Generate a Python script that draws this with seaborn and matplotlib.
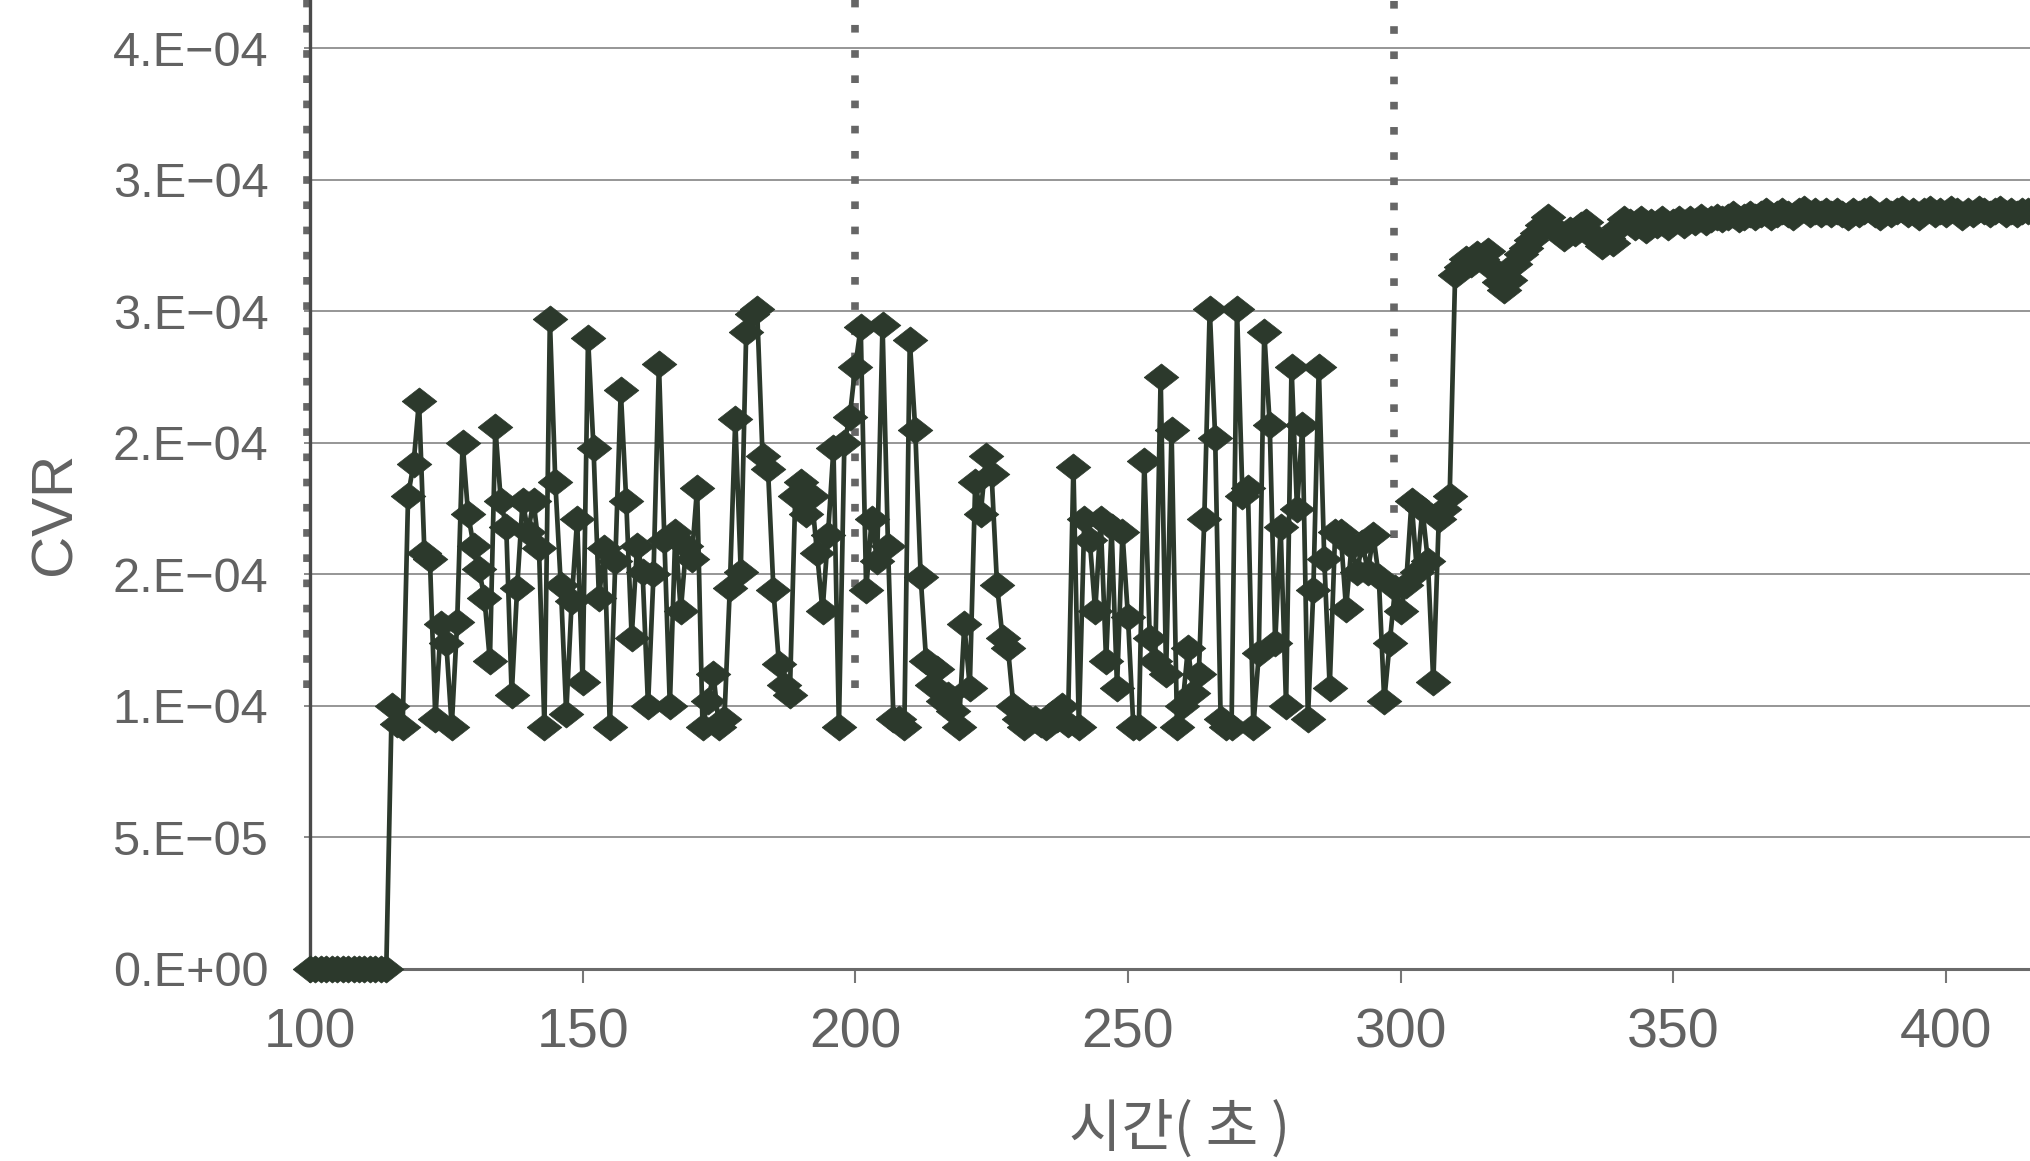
import numpy as np
import pandas as pd
import matplotlib
matplotlib.use("Agg")
import matplotlib.pyplot as plt
from matplotlib import font_manager
import seaborn as sns

# ---------------------------------------------------------------------------
# CVR time series, one sample per second from 100 s to 416 s (units of 1e-4)
# ---------------------------------------------------------------------------
cvr_idle = [0.00, 0.00, 0.00, 0.00, 0.00, 0.00, 0.00, 0.00, 0.00, 0.00,
            0.00, 0.00, 0.00, 0.00, 0.00]                       # 100-114 s

cvr_unstable = [                                                 # 115-309 s
    1.00, 0.93, 0.92, 1.80, 1.92, 2.16, 1.58, 1.56, 0.95, 1.31,
    1.24, 0.92, 1.32, 2.00, 1.73, 1.61, 1.52, 1.41, 1.17, 2.06,
    1.78, 1.68, 1.04, 1.45, 1.78, 1.66, 1.78, 1.60, 0.92, 2.47,
    1.85, 1.46, 0.97, 1.40, 1.71, 1.09, 2.40, 1.98, 1.41, 1.60,
    0.92, 1.55, 2.20, 1.78, 1.26, 1.61, 1.51, 1.00, 1.50, 2.30,
    1.63, 1.00, 1.66, 1.36, 1.61, 1.56, 1.83, 0.92, 1.02, 1.12,
    0.92, 0.95, 1.45, 2.09, 1.51, 2.42, 2.49, 2.51, 1.95, 1.90,
    1.44, 1.16, 1.08, 1.04, 1.80, 1.85, 1.73, 1.80, 1.58, 1.36,
    1.65, 1.98, 0.92, 2.00, 2.10, 2.29, 2.44, 1.44, 1.71, 1.55,
    2.45, 1.61, 0.95, 0.95, 0.92, 2.39, 2.05, 1.49, 1.17, 1.08,
    1.14, 1.02, 1.04, 0.98, 0.92, 1.31, 1.07, 1.85, 1.73, 1.95,
    1.88, 1.46, 1.26, 1.22, 1.00, 0.95, 0.92, 0.95, 0.95, 0.93,
    0.92, 0.97, 0.95, 1.00, 0.93, 1.91, 0.92, 1.71, 1.63, 1.36,
    1.71, 1.17, 1.68, 1.07, 1.66, 1.34, 0.92, 0.92, 1.93, 1.26,
    1.17, 2.25, 1.12, 2.05, 0.92, 1.00, 1.22, 1.05, 1.12, 1.71,
    2.51, 2.02, 0.95, 0.92, 0.92, 2.51, 1.80, 1.83, 0.92, 1.20,
    2.42, 2.07, 1.24, 1.68, 1.00, 2.29, 1.75, 2.07, 0.95, 1.44,
    2.29, 1.56, 1.07, 1.66, 1.66, 1.37, 1.61, 1.51, 1.62, 1.51,
    1.65, 1.49, 1.02, 1.24, 1.45, 1.36, 1.46, 1.78, 1.51, 1.75,
    1.55, 1.09, 1.71, 1.75, 1.80,
]

cvr_steady = [                                                   # 310-416 s
    2.64, 2.67, 2.70, 2.68, 2.72, 2.70, 2.73, 2.66, 2.61, 2.58,
    2.62, 2.68, 2.72, 2.74, 2.77, 2.80, 2.83, 2.86, 2.82, 2.80,
    2.78, 2.81, 2.80, 2.83, 2.84, 2.80, 2.77, 2.75, 2.78, 2.76,
    2.82, 2.85, 2.84, 2.82, 2.85, 2.81, 2.84, 2.83, 2.85, 2.82,
    2.84, 2.85, 2.83, 2.85, 2.84, 2.86, 2.84, 2.85, 2.86, 2.85,
    2.86, 2.87, 2.85, 2.86, 2.87, 2.86, 2.87, 2.88, 2.86, 2.87,
    2.88, 2.87, 2.86, 2.88, 2.89, 2.87, 2.88, 2.87, 2.88, 2.87,
    2.88, 2.87, 2.86, 2.88, 2.87, 2.88, 2.89, 2.87, 2.86, 2.88,
    2.87, 2.88, 2.89, 2.87, 2.88, 2.86, 2.88, 2.89, 2.87, 2.88,
    2.87, 2.89, 2.88, 2.86, 2.88, 2.87, 2.89, 2.88, 2.87, 2.88,
    2.89, 2.87, 2.88, 2.87, 2.88, 2.88, 2.88,
]

time_s = np.arange(100, 417)
cvr = np.array(cvr_idle + cvr_unstable + cvr_steady) * 1e-4

# axis ticks
xtick_values = [100, 150, 200, 250, 300, 350, 400]
ytick_values = [0.0, 5e-5, 1e-4, 1.5e-4, 2e-4, 2.5e-4, 3e-4, 3.5e-4]
ytick_labels = ["0.E+00", "5.E\u221205", "1.E\u221204", "2.E\u221204",
                "2.E\u221204", "3.E\u221204", "3.E\u221204", "4.E\u221204"]

# phase boundaries (dotted markers) and where each dotted line ends
event_times = [99.5, 199.9, 298.8]
event_floor = [1.07e-4, 1.07e-4, 1.64e-4]

df = pd.DataFrame({"time": time_s, "cvr": cvr})


def first_font(names):
    for name in names:
        try:
            font_manager.findfont(font_manager.FontProperties(family=name),
                                  fallback_to_default=False)
            return name
        except Exception:
            continue
    return "DejaVu Sans"


sans = first_font(["Liberation Sans", "Arial", "DejaVu Sans"])
narrow = first_font(["Liberation Sans Narrow", "Arial Narrow", "Liberation Sans"])
korean = first_font(["Noto Sans CJK KR", "Noto Sans CJK SC"])

sns.set_theme(style="white")
plt.rcParams["font.family"] = [sans, "DejaVu Sans"]

text_color = "#626262"
mark_color = "#2c392c"

fig = plt.figure(figsize=(20.31, 11.61), dpi=100)
ax = fig.add_axes([0.1526, 0.1654, 1 - 0.1526, 0.8346])

# horizontal grid
ax.set_axisbelow(True)
ax.yaxis.grid(True, color="#8e8e8e", linewidth=1.3)
ax.xaxis.grid(False)

# dotted phase markers
ax.vlines(event_times, event_floor, 3.8e-4, colors="#666666",
          linewidth=5.5, linestyles=(0, (1.0, 2.3)), zorder=2, clip_on=False)

# flattened diamond marker
diamond = [(-1.0, 0.0), (0.0, 0.78), (1.0, 0.0), (0.0, -0.78), (-1.0, 0.0)]

sns.lineplot(data=df, x="time", y="cvr", ax=ax, estimator=None, sort=False,
             color=mark_color, linewidth=3.4, marker=diamond, markersize=25,
             markerfacecolor=mark_color, markeredgecolor=mark_color,
             markeredgewidth=0.5, clip_on=False, zorder=3)

ax.set_xlim(100, 415.6)
ax.set_ylim(0, 3.684e-4)

ax.set_xticks(xtick_values)
ax.set_xticklabels([str(v) for v in xtick_values], fontfamily=narrow,
                   fontsize=40, color=text_color)
ax.set_yticks(ytick_values)
ax.set_yticklabels(ytick_labels, fontsize=35, color=text_color)

ax.tick_params(axis="x", direction="out", length=10, width=1.5,
               color="#777777", pad=18, bottom=True)
ax.tick_params(axis="y", direction="out", length=4, width=1.2,
               color="#777777", pad=26, left=True)

for side in ("top", "right"):
    ax.spines[side].set_visible(False)
ax.spines["left"].set_color("#4a4a4a")
ax.spines["left"].set_linewidth(2.4)
ax.spines["bottom"].set_color("#6a6a6a")
ax.spines["bottom"].set_linewidth(2.2)

ax.set_xlabel("시간( 초 )", fontfamily=[korean, "DejaVu Sans"], fontsize=41,
              color=text_color)
ax.xaxis.set_label_coords(0.505, -0.135)
ax.set_ylabel("CVR", fontfamily=narrow, fontsize=42, color=text_color)
ax.yaxis.set_label_coords(-0.132, 0.47)

fig.savefig("out.png", dpi=100)
